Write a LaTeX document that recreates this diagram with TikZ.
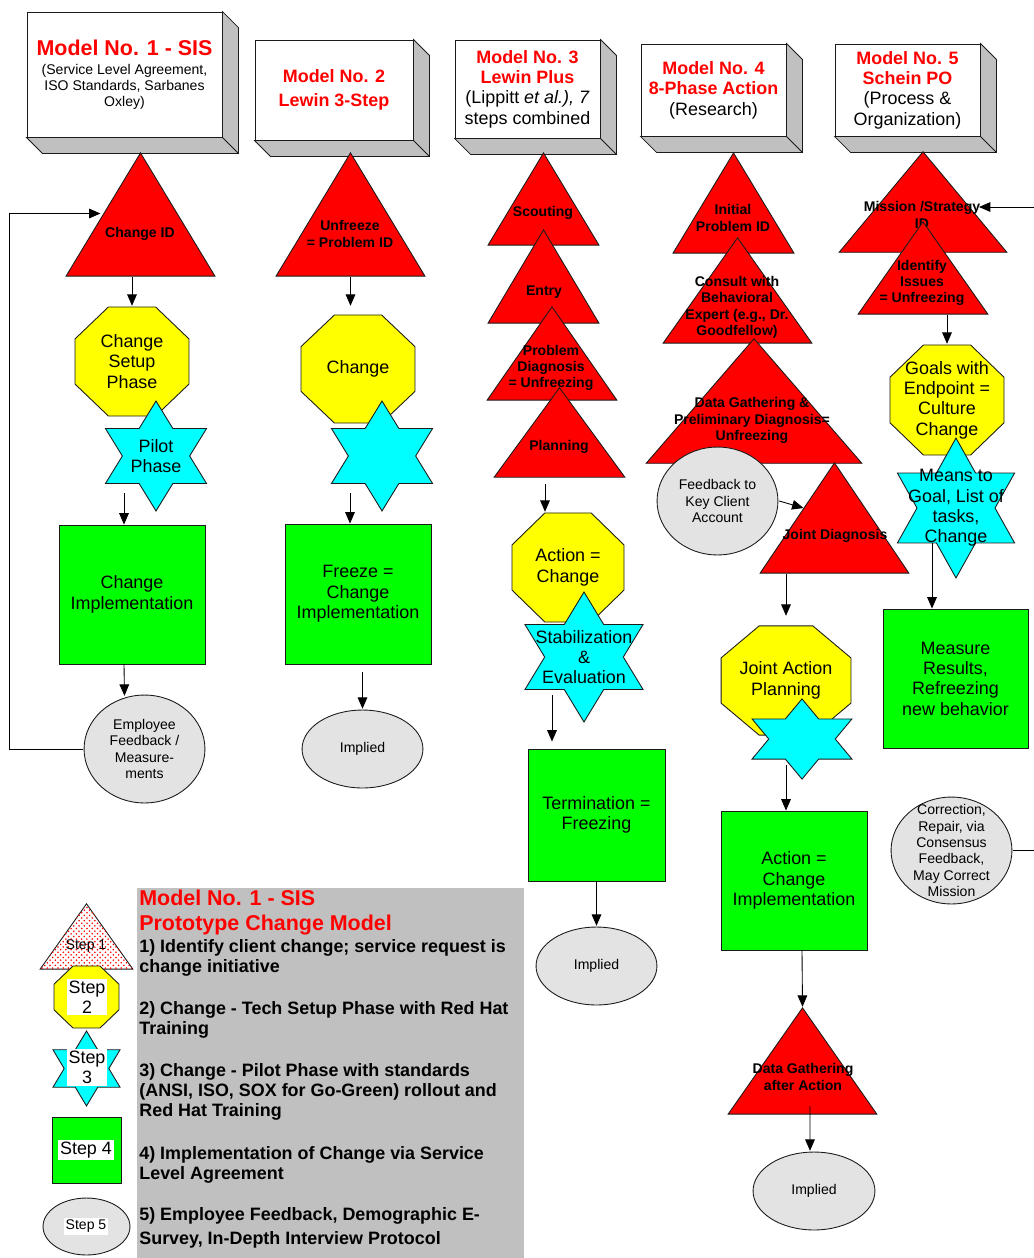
\documentclass[tikz,border=0pt]{standalone}
\usepackage{fontspec}
\setmainfont{Liberation Sans}
\usetikzlibrary{arrows.meta}
\usetikzlibrary{patterns}
\usetikzlibrary{calc}
\definecolor{edgecol}{HTML}{1A1A1A}
\definecolor{boxgray}{HTML}{C0C0C0}
\definecolor{ovalgray}{HTML}{E3E3E3}
\definecolor{starcyan}{RGB}{0,255,255}
\definecolor{octyellow}{RGB}{255,255,0}
\definecolor{boxgreen}{RGB}{0,255,0}
\definecolor{trired}{RGB}{255,0,0}
\newcommand{\redtitle}[1]{\textcolor{trired}{\bfseries #1}}
% corners of a shape, a little inside its node box
\newcommand{\shapecorners}{%
  \coordinate (pa) at ($(path picture bounding box.south west)!0.7pt!(path picture bounding box.north east)$);
  \coordinate (pb) at ($(path picture bounding box.north east)!0.7pt!(path picture bounding box.south west)$);}

\begin{document}
\begin{tikzpicture}[x=0.02cm,y=-0.02cm,
  outline/.style={draw=edgecol,line width=0.5pt},
  mid/.style={font=\fontsize{10.2}{11.6}\selectfont,align=center},
  sml/.style={font=\fontsize{8}{9.3}\selectfont,align=center},
  ttxt/.style={font=\bfseries\fontsize{8}{9.3}\selectfont,align=center,inner sep=0pt},
  arr/.style={draw=black,line width=0.5pt,-{Triangle[length=6.5pt,width=5.5pt]}},
  hdr/.style 2 args={outline,fill=white,minimum width=#1*0.02cm,minimum height=#2*0.02cm,
    inner sep=0pt,align=center,
    append after command={\pgfextra{\filldraw[outline,fill=boxgray]
      (\tikzlastnode.north east) -- ++(16,16) -- ([shift={(16,16)}]\tikzlastnode.south east)
      -- ([shift={(16,16)}]\tikzlastnode.south west) -- (\tikzlastnode.south west)
      -- (\tikzlastnode.south east) -- cycle (\tikzlastnode.south east) -- ++(16,16);}}},
  tri fill/.style={fill=trired},
  tri/.style 2 args={minimum width=#1*0.02cm+1pt,minimum height=#2*0.02cm+1pt,inner sep=0pt,
    path picture={\shapecorners
      \filldraw[outline,tri fill] (pa) -- (pa -| pb) -- ($(pa |- pb)!.5!(pb)$) -- cycle;}},
  oct/.style 2 args={minimum width=#1*0.02cm+1pt,minimum height=#2*0.02cm+1pt,inner sep=0pt,
    path picture={\shapecorners
      \coordinate (q1) at ($(pa)!.293!(pb)$);
      \coordinate (q2) at ($(pa)!.707!(pb)$);
      \filldraw[outline,fill=octyellow] (q1 |- pb) -- (q2 |- pb) -- (pb |- q2) -- (pb |- q1)
        -- (q2 |- pa) -- (q1 |- pa) -- (pa |- q1) -- (pa |- q2) -- cycle;}},
  hexa/.style 2 args={minimum width=#1*0.02cm+1pt,minimum height=#2*0.02cm+1pt,inner sep=0pt,
    path picture={\shapecorners
      \coordinate (r1) at ($(pa)!.167!(pb)$);
      \coordinate (r2) at ($(pa)!.25!(pb)$);
      \coordinate (r3) at ($(pa)!.333!(pb)$);
      \coordinate (r4) at ($(pa)!.5!(pb)$);
      \coordinate (r5) at ($(pa)!.667!(pb)$);
      \coordinate (r6) at ($(pa)!.75!(pb)$);
      \coordinate (r7) at ($(pa)!.833!(pb)$);
      \filldraw[outline,fill=starcyan] (r4 |- pb) -- (r5 |- r6) -- (pb |- r6) -- (r7 |- r4)
        -- (pb |- r2) -- (r5 |- r2) -- (r4 |- pa) -- (r3 |- r2) -- (pa |- r2)
        -- (r1 |- r4) -- (pa |- r6) -- (r3 |- r6) -- cycle;}},
  oval/.style 2 args={minimum width=#1*0.02cm+1pt,minimum height=#2*0.02cm+1pt,inner sep=0pt,
    path picture={\filldraw[outline,fill=ovalgray] (path picture bounding box.center)
      ellipse [x radius=#1*0.01cm,y radius=#2*0.01cm];}},
  grn/.style 2 args={outline,fill=boxgreen,minimum width=#1*0.02cm,minimum height=#2*0.02cm,
    inner sep=0pt},
  steplbl/.style={fill=white,inner sep=1pt,align=center},
  legitem/.style={anchor=west,align=left,inner sep=0pt,font=\bfseries\fontsize{10.2}{11.4}\selectfont}]

\useasboundingbox (0,0) rectangle (1034,1258);

% model headers
\node[hdr={195}{125},font=\fontsize{8}{9}\selectfont] (b1) at (124.5,74.5)
  {\textcolor{trired}{\fontsize{12.2}{14}\selectfont\bfseries Model No. 1 - SIS}\\[2pt](Service Level Agreement,\\ISO Standards, Sarbanes\\Oxley)};
\node[hdr={158}{100},font=\fontsize{10.2}{13.6}\selectfont] (b2) at (334,90)
  {\redtitle{Model No. 2}\\\redtitle{Lewin 3-Step}};
\node[hdr={145}{98},font=\fontsize{10.2}{11.6}\selectfont] (b3) at (527.5,89)
  {\redtitle{Model No. 3}\\\redtitle{Lewin Plus}\\(Lippitt \textit{et al.), 7}\\steps combined};
\node[hdr={145}{92},font=\fontsize{10.2}{11.6}\selectfont] (b4) at (713.5,90)
  {\redtitle{Model No. 4}\\\redtitle{8-Phase Action}\\(Research)};
\node[hdr={145}{92},font=\fontsize{10.2}{11.6}\selectfont] (b5) at (907.5,90)
  {\redtitle{Model No. 5}\\\redtitle{Schein PO}\\(Process \&\\Organization)};

% model 1
\node[tri={149}{123}] (cid) at (140.5,214.5) {};
\node[ttxt] (cidt) at (140,234) {Change ID};
\node[oct={114}{109},mid] (set1) at (132,361.5) {Change\\Setup\\Phase};
\node[hexa={101}{110},mid] (pil1) at (156,456) {Pilot\\Phase};
\node[grn={146}{139},mid] (imp1) at (132,594.5) {Change\\Implementation};
\node[oval={121}{108},sml] (emp1) at (144.5,749) {Employee\\Feedback /\\Measure-\\ments};

% model 2
\node[tri={149}{123}] (unf) at (350.5,214.5) {};
\node[ttxt] (unft) at (350,234) {Unfreeze\\= Problem ID};
\node[oct={114}{108},mid] (chg2) at (358,369) {Change};
\node[hexa={101}{110}] (star2) at (382,456) {};
\node[grn={146}{140},mid] (frz2) at (358,594) {Freeze =\\Change\\Implementation};
\node[oval={121}{78},sml] (imp2) at (362.5,749) {Implied};

% model 3
\node[tri={111}{92}] (sco) at (543.5,199) {};
\node[ttxt] (scot) at (543,213) {Scouting};
\node[tri={111}{93}] (ent) at (543.5,276.5) {};
\node[ttxt] (entt) at (544,292) {Entry};
\node[tri={130}{93}] (pdg) at (552,353.5) {};
\node[ttxt] (pdgt) at (551,368) {Problem\\Diagnosis\\= Unfreezing};
\node[tri={131}{89}] (pln) at (559.5,432.5) {};
\node[ttxt] (plnt) at (559,447) {Planning};
\node[oct={112}{109},mid] (act3) at (568,567.5) {Action =\\Change};
\node[hexa={118}{130},mid] (stab3) at (584,657) {Stabilization\\\&\\Evaluation};
\node[grn={137}{132},mid] (term3) at (596.5,815) {Termination =\\Freezing};
\node[oval={121}{78},sml] (imp3) at (596.5,966) {Implied};

% model 4
\node[tri={121}{100}] (ipi) at (733.5,203) {};
\node[ttxt] (ipit) at (733,218) {Initial\\Problem ID};
\node[tri={149}{105}] (con) at (737.5,290.5) {};
\node[ttxt] (cont) at (737,307.5) {Consult with\\Behavioral\\Expert (e.g., Dr.\\Goodfellow)};
\node[tri={216}{124}] (dgp) at (754,401) {};
\node[ttxt] (dgpt) at (752,420.5) {Data Gathering \&\\Preliminary Diagnosis=\\Unfreezing};
\node[oval={121}{108},sml] (fbk) at (717.5,501) {Feedback to\\Key Client\\Account};
\node[tri={149}{110}] (jdg) at (834.5,518) {};
\node[ttxt] (jdgt) at (835,536) {Joint Diagnosis};
\node[oct={130}{109},mid] (jap) at (786,680.5) {Joint Action\\Planning};
\node[hexa={100}{80}] (star4) at (802,739) {};
\node[grn={146}{139},mid] (aci) at (794,880.5) {Action =\\Change\\Implementation};
\node[tri={149}{106}] (dga) at (802.5,1061) {};
\node[ttxt] (dgat) at (803,1077) {Data Gathering\\after Action};
\node[oval={122}{78},sml] (imp4) at (814,1191) {Implied};

% model 5
\node[tri={168}{100}] (mis) at (923,202) {};
\node[ttxt] (mist) at (922,215) {Mission /Strategy\\ID};
\node[tri={130}{92}] (idi) at (923,268) {};
\node[ttxt] (idit) at (922,283) {Identify\\Issues\\= Unfreezing};
\node[oct={114}{110},mid] (gol) at (947,400) {Goals with\\Endpoint =\\Culture\\Change};
\node[hexa={117}{140},mid] (mns) at (956,508) {Means to\\Goal, List of\\tasks,\\Change};
\node[grn={145}{139},mid] (mea) at (955.5,678.5) {Measure\\Results,\\Refreezing\\new behavior};
\node[oval={121}{107},sml] (cor) at (951.5,850.5) {Correction,\\Repair, via\\Consensus\\Feedback,\\May Correct\\Mission};

% legend
\node[fill=boxgray,minimum width=387*0.02cm,minimum height=372*0.02cm,inner sep=0pt] (leg) at (330.5,1074) {};
\node[tri={93}{65},tri fill/.style={fill=white,postaction={pattern=crosshatch dots,pattern color=trired}}] (s1) at (86.5,936.5) {};
\node[sml] (s1t) at (86,946) {Step 1};
\node[oct={65}{62}] (s2) at (86.5,997) {};
\node[steplbl,mid] (s2t) at (87,997) {Step\\2};
\node[hexa={67}{75}] (s3) at (86.5,1068.5) {};
\node[steplbl,mid] (s3t) at (87,1067.5) {Step\\3};
\node[grn={69}{66}] (s4) at (86.5,1150) {};
\node[steplbl,mid] (s4t) at (86,1150) {Step 4};
\node[oval={87}{57}] (s5) at (86.5,1226.5) {};
\node[steplbl,sml] (s5t) at (86,1226.5) {Step 5};

\node[anchor=west,align=left,inner sep=0pt,text=trired,font=\bfseries\fontsize{12.2}{14.2}\selectfont] (legt) at (139,912.5)
  {Model No. 1 - SIS\\Prototype Change Model};
\node[legitem] (leg1) at (139,958) {1) Identify client change; service request is\\change initiative};
\node[legitem] (leg2) at (139,1020) {2) Change - Tech Setup Phase with Red Hat\\Training};
\node[legitem] (leg3) at (139,1092) {3) Change - Pilot Phase with standards\\(ANSI, ISO, SOX for Go-Green) rollout and\\Red Hat Training};
\node[legitem] (leg4) at (139,1164.5) {4) Implementation of Change via Service\\Level Agreement};
\node[legitem] (leg5) at (139,1228) {5) Employee Feedback, Demographic E-\\[2pt]Survey, In-Depth Interview Protocol};

% connectors
\draw[arr] (cid.south -| set1) -- (set1.north);
\draw[arr] ([shift={(-32,37)}]pil1.center) -- ([shift={(-8,0)}]imp1.north);
\draw[arr] ([shift={(-8,0)}]imp1.south) -- ([shift={(-20,2)}]emp1.north);
\draw[arr] (emp1.west) -- ++(-73,0) |- ([shift={(-40,-1)}]cid.center);

\draw[arr] (unf.south) -- ([shift={(-7.5,-8)}]chg2.north);
\draw[arr] ([shift={(-32,37)}]star2.center) -- ([shift={(-8,0)}]frz2.north);
\draw[arr] ([shift={(4.5,8)}]frz2.south) -- (imp2.north);

\draw[arr] ([shift={(-14.5,6)}]pln.south) -- ([shift={(-23,0)}]act3.north);
\draw[arr] ([shift={(-32,38)}]stab3.center) -- ([shift={(-44.5,-7)}]term3.north);
\draw[arr] (term3.south) -- (imp3.north);

\draw[arr] (fbk.east) -- ([shift={(-31,-10)}]jdg.center);
\draw[arr] (jdg.south -| jap) -- ([shift={(0,-9)}]jap.north);
\draw[arr] ([shift={(-16,26)}]star4.center) -- (aci.north -| jap);
\draw[arr] ([shift={(8,0)}]aci.south) -- (dga.north);
\draw[arr] ([shift={(7.5,45)}]dga.center) -- ([shift={(-4,0)}]imp4.north);

\draw[arr] ([shift={(24,0)}]idi.south) -- (gol.north);
\draw[arr] ([shift={(-24,35)}]mns.center) -- ([shift={(-23.5,0)}]mea.north);
\draw[arr] (cor.east) -- ++(40,0) |- ([shift={(56,5)}]mis.center);
\end{tikzpicture}
\end{document}
